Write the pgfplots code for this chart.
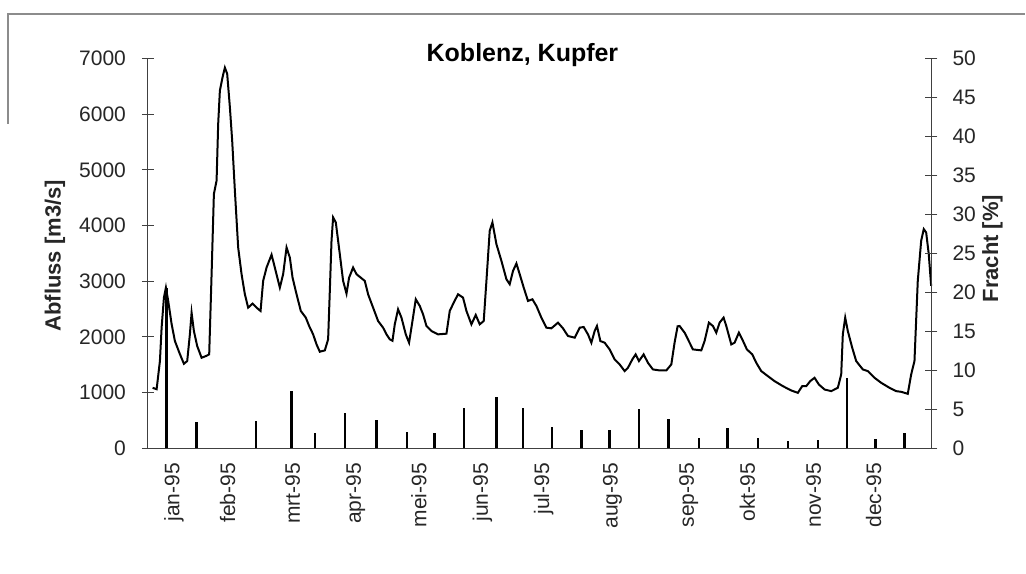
\documentclass[border=0pt]{standalone}
\usepackage{fontspec}
\setmainfont{Liberation Sans}
\usepackage{pgfplots}
\pgfplotsset{compat=1.18}

% x positions are read along the time axis of the scan (axis spans 148..932)
\pgfplotsset{
  kobl/.style={
    scale only axis,
    width=392pt, height=195pt,
    xmin=148, xmax=932,
    clip=false,
    axis line style={-, black!75, line width=0.5pt},
    tick style={black!75, line width=0.5pt},
    tick align=center,
    major tick length=6pt,
    tick label style={font=\fontsize{10.5}{12.6}\selectfont, text=black!85},
    /pgf/number format/assume math mode=true,
    /pgf/number format/1000 sep={},
  },
}

\begin{document}
\begin{tikzpicture}
  \begin{axis}[
    kobl,
    axis x line*=bottom,
    axis y line*=left,
    ymin=0, ymax=7000,
    ytick={0,1000,...,7000},
    yticklabel style={xshift=-4.5pt},
    xtick={168,221.7,286.7,350,413,476.7,538,606.7,683,741.7,808,868},
    xticklabels={jan-95,feb-95,mrt-95,apr-95,mei-95,jun-95,jul-95,aug-95,sep-95,okt-95,nov-95,dec-95},
    xticklabel style={rotate=90, anchor=east, yshift=-3pt, xshift=-1pt},
    x tick style={draw=none},
    ylabel={\textbf{Abfluss [m3/s]}},
    every axis y label/.style={at={(rel axis cs:-0.1186,0.494)}, rotate=90, anchor=center,
      font=\fontsize{11}{13}\selectfont, text=black!85},
  ]
    % Abfluss
    \addplot[black, line width=1pt, mark=none] coordinates {
      (152.7,1085)(156.7,1060)(160,1565)(161.7,2165)(164,2705)(166,2885)(168.3,2645)
      (171.7,2230)(175,1925)(180,1690)(184,1517)(187.3,1565)(190,2050)(191.7,2435)
      (194,2105)(197.3,1835)(201.7,1625)(206,1655)(209.3,1685)(211.7,3125)(214,4565)
      (216.7,4805)(218.3,5825)(220,6425)(222.7,6665)(225,6835)(227.3,6725)(230,6125)
      (232.3,5525)(235,4625)(238.3,3605)(241.7,3125)(245,2765)(248.3,2525)(252.7,2597)
      (256.7,2525)(260.7,2465)(263.3,3005)(266.7,3245)(271.7,3475)(275,3245)(280,2885)
      (283.3,3125)(286.7,3605)(290,3425)(292.7,3065)(296.7,2765)(301,2465)(306,2345)
      (309.3,2195)(313.3,2045)(316.7,1865)(320,1733)(325,1757)(328.3,1955)(330,2825)
      (331.7,3725)(333.3,4145)(336,4055)(340,3485)(343.3,3005)(346.7,2777)(349.3,3065)
      (353.3,3245)(356.7,3125)(361.7,3053)(365,3005)(368.3,2765)(373.3,2525)(378.3,2285)
      (383.3,2165)(386.7,2045)(390,1955)(392.7,1930)(395,2225)(398.3,2495)(401.7,2345)
      (406,2045)(409.3,1895)(412.7,2285)(416,2675)(420,2555)(423.3,2405)(426.7,2195)
      (431.7,2105)(438.3,2045)(446.7,2057)(450,2465)(454,2615)(458.3,2765)(463.3,2705)
      (466.7,2465)(471.7,2225)(476,2393)(480,2225)(484,2285)(486.7,3005)(490,3905)
      (492.7,4055)(496.7,3665)(501.7,3365)(506.7,3035)(510,2945)(513.3,3185)(516.7,3317)
      (520,3125)(524,2885)(528.3,2645)(532.7,2675)(536.7,2555)(541.7,2345)(546.7,2165)
      (551.7,2153)(558.3,2255)(563.3,2153)(568.3,2015)(575,1985)(580,2165)(584,2177)
      (588.3,2045)(591.7,1895)(595,2105)(597.3,2195)(600.7,1925)(605,1895)(610,1775)
      (615,1595)(620,1505)(625,1385)(628.3,1445)(632.7,1595)(636,1685)(639.3,1565)
      (644,1685)(648.3,1535)(653.3,1415)(660,1397)(666.7,1397)(671.7,1505)(675,1900)
      (678,2190)(680,2195)(685,2075)(690,1895)(693.3,1775)(701.7,1757)(705,1925)
      (709.3,2255)(713.3,2195)(716.7,2075)(720,2255)(724,2345)(726.7,2195)(731.7,1865)
      (735,1895)(739.3,2075)(742.7,1955)(747.3,1775)(752.7,1685)(756.7,1535)(761.7,1385)
      (768.3,1295)(775,1205)(783.3,1115)(791.7,1037)(798.3,995)(802.7,1115)(806.7,1115)
      (810.7,1205)(815,1265)(819.3,1145)(825,1055)(831.7,1025)(838.3,1085)(841.7,1325)
      (843.3,2045)(845.7,2345)(848.3,2105)(852.7,1805)(856.7,1565)(863.3,1415)(868.3,1385)
      (875,1265)(881.7,1175)(890,1085)(896.7,1025)(901.7,1013)(908.3,977)(911.7,1325)
      (915,1565)(918.3,3005)(921.7,3725)(924.3,3935)(926.7,3875)(929.3,3485)(931.7,2915)
    };
    \node[font=\bfseries\fontsize{12.5}{15}\selectfont, text=black]
      at (rel axis cs:0.478,1.009) {Koblenz, Kupfer};
    % zero line and page frame as in the scan
    \draw[black!75, line width=0.6pt] (rel axis cs:0,0) -- (rel axis cs:1,0);
    \path (rel axis cs:-0.1888,-0.3218) rectangle (rel axis cs:1.1199,1.15);
    \draw[black!45, line width=0.6pt] (rel axis cs:-0.1786,0.832) -- (rel axis cs:-0.1786,1.114)
      -- (rel axis cs:1.1199,1.114);
  \end{axis}

  \begin{axis}[
    kobl,
    axis x line=none,
    axis y line*=right,
    ymin=0, ymax=50,
    ytick={0,5,...,50},
    yticklabel style={xshift=4pt},
    ylabel={\textbf{Fracht [\%]}},
    every axis y label/.style={at={(rel axis cs:1.0778,0.512)}, rotate=90, anchor=center,
      font=\fontsize{11}{13}\selectfont, text=black!85},
  ]
    % Fracht, one comb per sample
    \addplot[ycomb, black, line width=1.3pt, mark=none] coordinates {
      (166.7,20.5)(196.7,3.3)(256,3.5)(291.7,7.3)(315,2.0)(345,4.5)(376.7,3.6)
      (407.3,2.1)(435,1.9)(464.3,5.2)(496.7,6.6)(523.3,5.2)(552.3,2.7)(581.7,2.4)
      (610,2.3)(639.3,5.0)(668.7,3.7)(699.3,1.3)(727.7,2.6)(758.3,1.3)(788.3,0.9)
      (818.3,1.0)(847.3,9.0)(875.7,1.2)(905,2.0)
    };
  \end{axis}
\end{tikzpicture}
\end{document}
